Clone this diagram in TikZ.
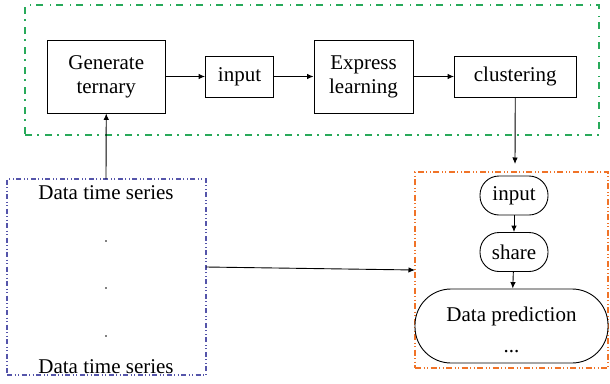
\documentclass[tikz,border=0pt]{standalone}
\usepackage{fontspec}
\setmainfont{Liberation Serif}
\usetikzlibrary{arrows.meta}
\definecolor{fgreen}{RGB}{40,170,90}
\definecolor{fblue}{RGB}{85,85,170}
\definecolor{forange}{RGB}{240,115,40}
\begin{document}
\begin{tikzpicture}[x=1pt,y=-1pt,
  every node/.style={font=\fontsize{21}{24}\selectfont, inner sep=0pt},
  box/.style={draw, line width=0.9pt, fill=white, align=center},
  rbox/.style={box, rounded corners=19pt},
  frame/.style={line width=1.1pt},
  arr/.style={line width=0.9pt, -{Latex[length=6.5pt,width=5.5pt]}},
  conn/.style={line width=0.9pt}]
\useasboundingbox (0,0) rectangle (610,383);
% frames
\node[frame, draw=fgreen, dash pattern=on 7pt off 5pt on 1.5pt off 6.5pt,
  minimum width=574pt, minimum height=130pt] (gframe) at (312,70) {};
\node[frame, draw=fblue, dash pattern=on 5pt off 2.5pt on 1pt off 2.5pt on 1pt off 2.5pt,
  minimum width=199pt, minimum height=196pt] (bframe) at (106.5,277) {};
\node[frame, draw=forange, dash pattern=on 6pt off 2.5pt on 1pt off 2.5pt on 1pt off 2.5pt,
  minimum width=193pt, minimum height=196pt] (oframe) at (511.5,270) {};
% top row
\node[box, minimum width=117.5pt, minimum height=73pt] (gen) at (106.25,76.5) {Generate\\ternary};
\node[box, minimum width=68pt, minimum height=41pt] (in1) at (239.5,76.5) {input};
\node[box, minimum width=99pt, minimum height=73pt] (expr) at (363.5,76.5) {Express\\learning};
\node[box, minimum width=121.5pt, minimum height=41pt] (clus) at (515.25,76.5) {clustering};
\draw[arr] (gen) -- (in1);
\draw[arr] (in1) -- (expr);
\draw[arr] (expr) -- (clus);
% data series
\node (d1) at (106,193) {Data time series};
\node (d2) at (106,367) {Data time series};
\foreach \y/\n in {241/p1,288/p2,336/p3}
  \fill (106,\y) circle (0.9pt) coordinate (\n);
\coordinate (bt) at (106,179);
\draw[arr] (bt) -- (gen.south);
% right side
\coordinate (ct) at (515,164);
\draw[arr] (clus.south) -- (ct);
\node[rbox, minimum width=68pt, minimum height=39pt] (in2) at (514,195.5) {input};
\node[rbox, minimum width=68pt, minimum height=39pt] (share) at (514,252) {share};
\node[box, rounded corners=36pt, minimum width=193pt, minimum height=74pt] (pred) at (511.5,326) {};
\node (predt) at (511.5,316) {Data prediction};
\node (predd) at (511.5,352) {...};
\draw[arr] (in2) -- (share);
\draw[arr] (share) -- (pred);
\coordinate (ba) at (206,267);
\coordinate (oa) at (415,270);
\draw[arr] (ba) -- (oa);
\end{tikzpicture}
\end{document}
